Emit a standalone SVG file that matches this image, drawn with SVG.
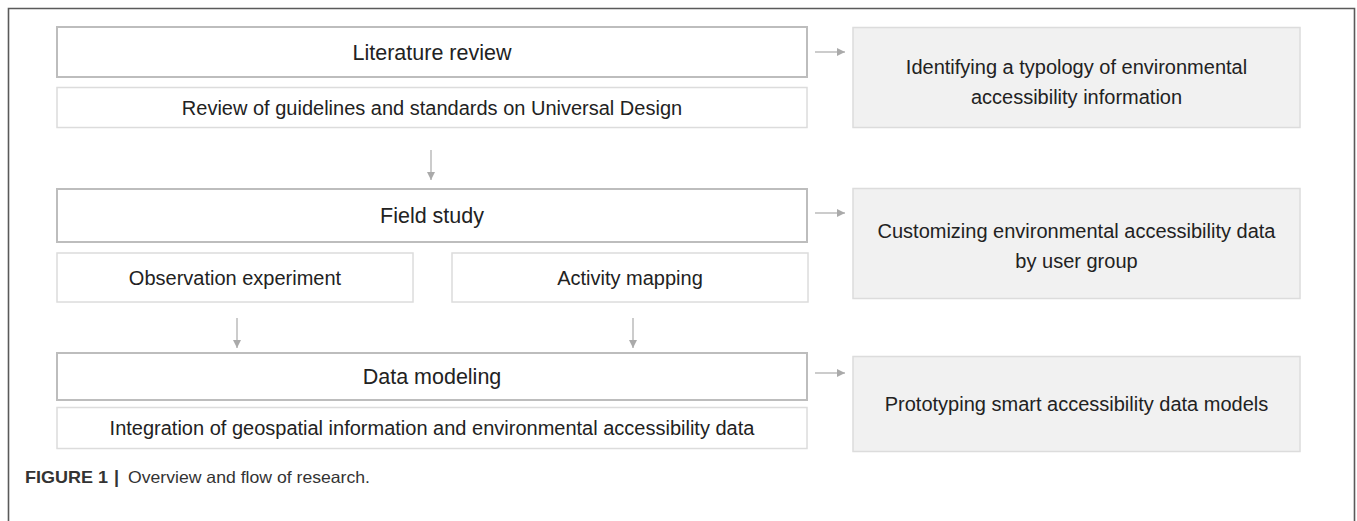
<svg xmlns="http://www.w3.org/2000/svg" width="1357" height="521" viewBox="0 0 1357 521">
  <style>
    .head { fill: #ffffff; stroke: #bdbdbd; stroke-width: 2; }
    .sub { fill: #ffffff; stroke: #dcdcdc; stroke-width: 1.5; }
    .out { fill: #f1f1f1; stroke: #dcdcdc; stroke-width: 1.5; }
    .t { font-family: "Liberation Sans", Arial, sans-serif; fill: #222222; text-anchor: middle; }
    .th { font-size: 21.5px; }
    .ts { font-size: 20px; }
    .arrow { stroke: #aaaaaa; stroke-width: 1.2; fill: none; marker-end: url(#head); }
    .cap { font-family: "Liberation Sans", Arial, sans-serif; font-size: 16.5px; fill: #333333; }
  </style>
  <defs>
    <marker id="head" viewBox="0 0 10 10" refX="10" refY="5" markerWidth="8" markerHeight="8" markerUnits="userSpaceOnUse" orient="auto">
      <path d="M0,0 L10,5 L0,10 Z" fill="#aaaaaa"/>
    </marker>
  </defs>

  <rect width="1357" height="521" fill="#ffffff"/>
  <!-- figure frame: top, left and right edges -->
  <path d="M8.5,521 L8.5,8.5 L1354.5,8.5 L1354.5,521" fill="none" stroke="#5a5a5a" stroke-width="1.6"/>

  <g id="literature-review">
    <rect class="head" x="57" y="27" width="750" height="50"/>
    <text class="t th" x="432" y="59.5">Literature review</text>
  </g>
  <g id="review-guidelines">
    <rect class="sub" x="57" y="87.5" width="750" height="40"/>
    <text class="t ts" x="432" y="114.5">Review of guidelines and standards on Universal Design</text>
  </g>
  <g id="typology">
    <rect class="out" x="853" y="27.5" width="447" height="100"/>
    <text class="t ts" x="1076.5" y="74">Identifying a typology of environmental</text>
    <text class="t ts" x="1076.5" y="104">accessibility information</text>
  </g>

  <g id="field-study">
    <rect class="head" x="57" y="189" width="750" height="53"/>
    <text class="t th" x="432" y="223">Field study</text>
  </g>
  <g id="observation-experiment">
    <rect class="sub" x="57" y="253" width="356" height="49"/>
    <text class="t ts" x="235" y="284.5">Observation experiment</text>
  </g>
  <g id="activity-mapping">
    <rect class="sub" x="452" y="253" width="356" height="49"/>
    <text class="t ts" x="630" y="284.5">Activity mapping</text>
  </g>
  <g id="customizing">
    <rect class="out" x="853" y="188.5" width="447" height="110"/>
    <text class="t ts" x="1076.5" y="238">Customizing environmental accessibility data</text>
    <text class="t ts" x="1076.5" y="268">by user group</text>
  </g>

  <g id="data-modeling">
    <rect class="head" x="57" y="353" width="750" height="47"/>
    <text class="t th" x="432" y="384">Data modeling</text>
  </g>
  <g id="integration">
    <rect class="sub" x="57" y="407.5" width="750" height="41"/>
    <text class="t ts" x="432" y="434.5">Integration of geospatial information and environmental accessibility data</text>
  </g>
  <g id="prototyping">
    <rect class="out" x="853" y="356.5" width="447" height="95"/>
    <text class="t ts" x="1076.5" y="411">Prototyping smart accessibility data models</text>
  </g>

  <g id="connectors">
    <line class="arrow" x1="815" y1="52" x2="845" y2="52"/>
    <line class="arrow" x1="815" y1="213" x2="845" y2="213"/>
    <line class="arrow" x1="815" y1="373" x2="845" y2="373"/>
    <line class="arrow" x1="431" y1="150" x2="431" y2="180"/>
    <line class="arrow" x1="237" y1="318" x2="237" y2="348"/>
    <line class="arrow" x1="633" y1="318" x2="633" y2="348"/>
  </g>

  <text class="cap" x="25" y="482.5"><tspan font-weight="bold" textLength="83" lengthAdjust="spacingAndGlyphs">FIGURE 1</tspan><tspan x="114" font-weight="bold" font-size="18px">|</tspan><tspan x="128" textLength="242" lengthAdjust="spacingAndGlyphs">Overview and flow of research.</tspan></text>
</svg>
